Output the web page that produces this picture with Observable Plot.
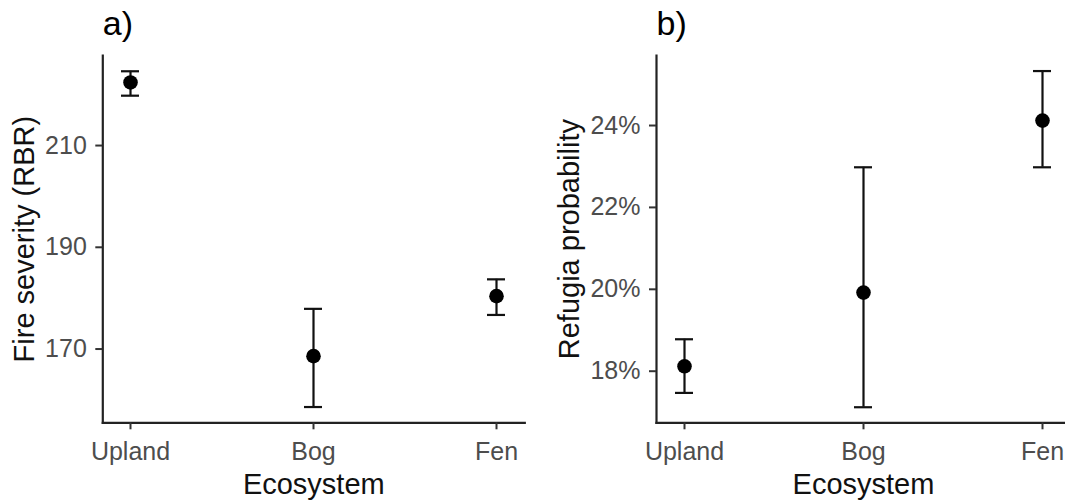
<!DOCTYPE html>
<html>
<head>
<meta charset="utf-8">
<script src="https://cdn.jsdelivr.net/npm/d3@7"></script>
<script src="https://cdn.jsdelivr.net/npm/@observablehq/plot@0.6"></script>
<style>
  html, body { margin: 0; padding: 0; background: #fff; overflow: hidden; }
  #wrap { position: relative; width: 1065px; height: 501px; overflow: hidden; background: #fff; }
  #pa { position: absolute; left: 0; top: 0; width: 530px; height: 501px; }
  #pb { position: absolute; left: 534px; top: 0; width: 536px; height: 501px; }
</style>
</head>
<body>
<div id="wrap"><div id="pa"></div><div id="pb"></div></div>
<script>
// ---- data ----
const ecosystems = ["Upland", "Bog", "Fen"];
const severityMean = [222.4, 168.6, 180.4];
const severityLow  = [219.8, 158.6, 176.7];
const severityHigh = [224.6, 177.9, 183.7];
const refugiaMean = [0.1812, 0.1992, 0.2412];
const refugiaLow  = [0.1747, 0.1712, 0.2298];
const refugiaHigh = [0.1878, 0.2298, 0.2533];
const severityTicks = [170, 190, 210];
const refugiaTicks = [0.18, 0.20, 0.22, 0.24];
const panelTitles = ["a)", "b)"];
const yTitles = ["Fire severity (RBR)", "Refugia probability"];
const xTitle = "Ecosystem";

const FONT = "Arial, 'Liberation Sans', Helvetica, sans-serif";

function table(mean, lo, hi) {
  return ecosystems.map((e, i) => ({eco: e, mean: mean[i], lo: lo[i], hi: hi[i]}));
}

function panel({data, width, marginLeft, marginRight, yDomain, yTicks, yFormat, title, yTitle, yTitleDx}) {
  return Plot.plot({
    width, height: 501,
    marginLeft, marginRight, marginTop: 55, marginBottom: 78.7,
    style: {fontFamily: FONT, fontSize: "25px", background: "transparent", color: "#000"},
    // band scale: bandwidth = error-bar cap width, band centre = category position
    x: {type: "band", domain: ecosystems, paddingInner: 0.9, paddingOuter: 0.1, align: 0.5, label: null},
    y: {domain: yDomain, label: null},
    marks: [
      Plot.frame({anchor: "left", stroke: "#222", strokeWidth: 2.2}),
      Plot.frame({anchor: "bottom", stroke: "#222", strokeWidth: 2.2}),
      Plot.axisX({tickSize: 7, tickPadding: 12, stroke: "#333", strokeWidth: 2, fill: "#4d4d4d", fontSize: 25, label: null}),
      Plot.axisY({ticks: yTicks, tickFormat: yFormat, tickSize: 7, tickPadding: 9, stroke: "#333", strokeWidth: 2, fill: "#4d4d4d", fontSize: 25, label: null}),
      Plot.ruleX(data, {x: "eco", y1: "lo", y2: "hi", stroke: "#111", strokeWidth: 2.2}),
      Plot.tickY(data, {x: "eco", y: "hi", stroke: "#111", strokeWidth: 2.2}),
      Plot.tickY(data, {x: "eco", y: "lo", stroke: "#111", strokeWidth: 2.2}),
      Plot.dot(data, {x: "eco", y: "mean", r: 7.3, fill: "#000", stroke: "none"}),
      Plot.text([title], {frameAnchor: "top-left", text: d => d, textAnchor: "start", lineAnchor: "bottom", dy: -20.6, fontSize: 34, fill: "#000"}),
      Plot.text([yTitle], {frameAnchor: "left", text: d => d, rotate: -90, textAnchor: "middle", lineAnchor: "bottom", dx: yTitleDx, fontSize: 29, fill: "#111"}),
      Plot.text([xTitle], {frameAnchor: "bottom", text: d => d, textAnchor: "middle", lineAnchor: "bottom", dy: 71, fontSize: 29, fill: "#111"})
    ]
  });
}

document.getElementById("pa").append(panel({
  data: table(severityMean, severityLow, severityHigh),
  width: 530, marginLeft: 102.3, marginRight: 5.7,
  yDomain: [155.5, 227.7], yTicks: severityTicks, yFormat: d => String(d),
  title: panelTitles[0], yTitle: yTitles[0], yTitleDx: -68.8
}));

document.getElementById("pb").append(panel({
  data: table(refugiaMean, refugiaLow, refugiaHigh),
  width: 536, marginLeft: 122, marginRight: 0,
  yDomain: [0.1674, 0.2571], yTicks: refugiaTicks, yFormat: d3.format(".0%"),
  title: panelTitles[1], yTitle: yTitles[1], yTitleDx: -78
}));
</script>
</body>
</html>
